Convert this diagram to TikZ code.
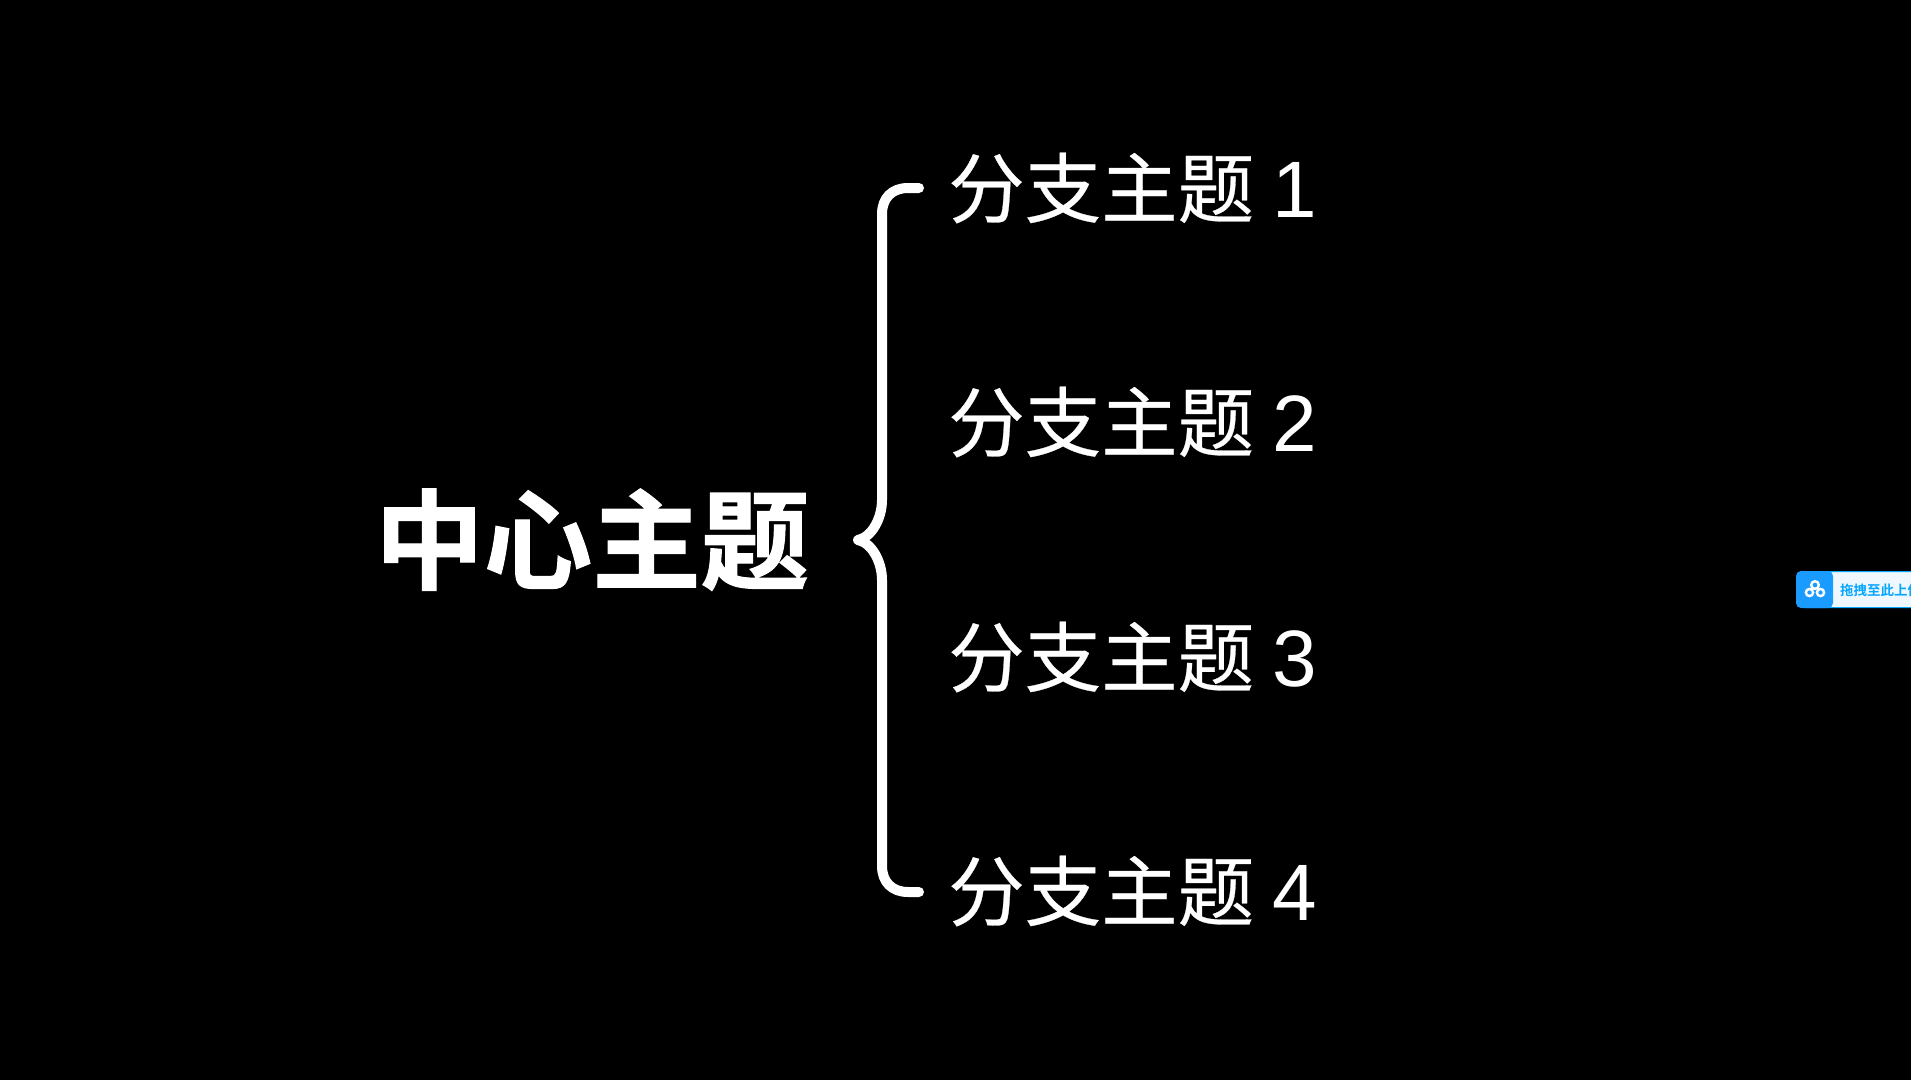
\documentclass[tikz,border=0pt]{standalone}
\usepackage{fontspec}
\setmainfont{Liberation Sans}
\newfontfamily\cjk[FakeBold=0.35]{Noto Sans CJK SC}
\newfontfamily\cjkb[FakeBold=1]{Noto Sans CJK SC Bold}
\newfontfamily\cjkw{Noto Sans CJK SC Bold}
\definecolor{wblue}{HTML}{06A7FF}
\definecolor{wdeep}{HTML}{1A9BFF}
\definecolor{wpale}{HTML}{F0F8FF}
\newcommand{\branchtext}[1]{{\cjk 分支主题}\hspace{18pt}{\fontsize{80}{80}\selectfont #1}}
\tikzset{
  branch/.style={anchor=base west,text=white,inner sep=0pt,font=\fontsize{76.5}{77}\selectfont},
  centre/.style={anchor=base west,text=white,inner sep=0pt,font=\fontsize{108.5}{110}\selectfont},
  bracket/.style={draw=white,line width=10pt,line cap=round,line join=round}
}
\begin{document}
\begin{tikzpicture}[x=1pt,y=-1pt]
\useasboundingbox (0,0) rectangle (1911,1079);
\fill[black] (-5,-5) rectangle (1916,1084);
\node[centre] (c) at (375,581) {\cjkb 中心主题};
\node[branch] (b1) at (948,217) {\branchtext{1}};
\node[branch] (b2) at (948,451) {\branchtext{2}};
\node[branch] (b3) at (948,686) {\branchtext{3}};
\node[branch] (b4) at (948,920) {\branchtext{4}};
\coordinate (top) at (919,188);
\coordinate (tip) at (858,540);
\coordinate (bot) at (919,892);
\draw[bracket] (top) -- (908,188) .. controls (892,188) and (882,198) .. (882,214)
  -- (882,500) .. controls (882,518) and (872,537) .. (tip)
  .. controls (872,543) and (882,562) .. (882,580)
  -- (882,866) .. controls (882,882) and (892,892) .. (908,892) -- (bot);
\begin{scope}
\clip (0,0) rectangle (1911,1079);
\path[fill=wpale,draw=wblue,line width=1pt,rounded corners=5pt] (1800,571.5) rectangle (1930,607.5);
\path[fill=wdeep,rounded corners=5pt] (1796,571) rectangle (1833,608);
\draw[white,line width=2.4pt] (1815,585) circle (3.8pt) (1809.5,592.5) circle (3.6pt) (1820.5,592.5) circle (3.6pt);
\node[anchor=west,inner sep=0pt,text=wblue,font=\fontsize{13.5}{14}\selectfont] (w) at (1840,590) {\cjkw 拖拽至此上传};
\end{scope}
\end{tikzpicture}
\end{document}
